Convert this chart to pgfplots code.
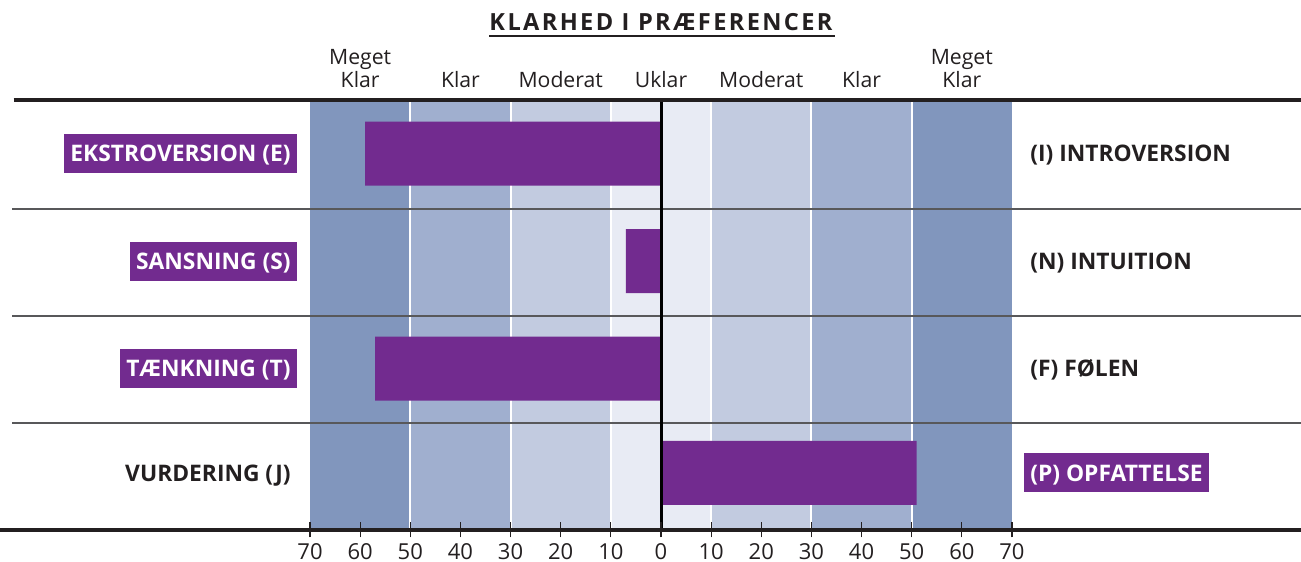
\documentclass[border=0pt]{standalone}
\usepackage{fontspec}
\setmainfont{Open Sans}
\usepackage{pgfplots}
\pgfplotsset{compat=1.18}
\definecolor{bandA}{HTML}{8196BD}
\definecolor{bandB}{HTML}{A0AFCF}
\definecolor{bandC}{HTML}{C2CBE0}
\definecolor{bandD}{HTML}{E8EBF4}
\definecolor{purp}{HTML}{722B8F}
\definecolor{textdark}{HTML}{231F20}
\definecolor{sepgray}{HTML}{58585A}
\tikzset{
  lab/.style={font=\fontsize{11.4}{13}\selectfont\bfseries, text height=8.2pt, text depth=0pt, inner ysep=5.65pt, inner xsep=3pt},
  hl/.style={lab, fill=purp, text=white},
  nl/.style={lab, text=textdark},
  hd/.style={font=\fontsize{10.6}{12}\selectfont, text=textdark, anchor=base, inner sep=0pt},
}
\begin{document}
\begin{tikzpicture}
\begin{axis}[
  scale only axis, width=351pt, height=215pt,
  xmin=-70, xmax=70, ymin=0, ymax=4,
  clip=false, axis on top,
  axis line style={draw=none},
  xtick={-70,-60,...,70},
  xticklabels={70,60,50,40,30,20,10,0,10,20,30,40,50,60,70},
  ytick=\empty,
  xtick pos=bottom,
  tick align=center,
  major tick length=7.5pt,
  tick style={textdark, line width=0.6pt},
  ticklabel style={font=\fontsize{11}{12}\selectfont, text=textdark},
  /pgf/number format/assume math mode=true,
  xticklabel style={anchor=base, yshift=-10.8pt},
]
% bands
\fill[bandA] (axis cs:-70,0) rectangle (axis cs:-50,4);
\fill[bandB] (axis cs:-50,0) rectangle (axis cs:-30,4);
\fill[bandC] (axis cs:-30,0) rectangle (axis cs:-10,4);
\fill[bandD] (axis cs:-10,0) rectangle (axis cs:10,4);
\fill[bandC] (axis cs:10,0) rectangle (axis cs:30,4);
\fill[bandB] (axis cs:30,0) rectangle (axis cs:50,4);
\fill[bandA] (axis cs:50,0) rectangle (axis cs:70,4);
\draw[white, line width=1pt] (axis cs:-50,0) -- (axis cs:-50,4);
\draw[white, line width=1pt] (axis cs:-30,0) -- (axis cs:-30,4);
\draw[white, line width=1pt] (axis cs:-10,0) -- (axis cs:-10,4);
\draw[white, line width=1pt] (axis cs:10,0) -- (axis cs:10,4);
\draw[white, line width=1pt] (axis cs:30,0) -- (axis cs:30,4);
\draw[white, line width=1pt] (axis cs:50,0) -- (axis cs:50,4);
% row separators
\draw[sepgray, line width=1pt] (axis cs:-129.4,0.995) -- (axis cs:127.7,0.995);
\draw[sepgray, line width=1pt] (axis cs:-129.4,1.99) -- (axis cs:127.7,1.99);
\draw[sepgray, line width=1pt] (axis cs:-129.4,2.985) -- (axis cs:127.7,2.985);
% bars
\addplot[xbar, bar width=32pt, bar shift=0pt, fill=purp, draw=none]
  coordinates {(-59,3.5) (-7,2.5) (-57,1.5) (51,0.53)};
% zero line
\draw[black, line width=1.5pt] (axis cs:0,0) -- (axis cs:0,4);
% top and bottom lines
\draw[textdark, line width=2pt] (axis cs:-129.1,4) -- (axis cs:127.7,4);
\draw[textdark, line width=2pt] (axis cs:-131.9,0) -- (axis cs:127.7,0);
% left labels
\node[hl, anchor=east] at (axis cs:-72.6,3.5) {EKSTROVERSION (E)};
\node[hl, anchor=east] at (axis cs:-72.6,2.5) {SANSNING (S)};
\node[hl, anchor=east] at (axis cs:-72.6,1.5) {TÆNKNING (T)};
\node[nl, anchor=east] at (axis cs:-72.6,0.53) {VURDERING (J)};
% right labels
\node[nl, anchor=west] at (axis cs:72.4,3.5) {(I) INTROVERSION};
\node[nl, anchor=west] at (axis cs:72.4,2.5) {(N) INTUITION};
\node[nl, anchor=west] at (axis cs:72.4,1.5) {(F) FØLEN};
\node[hl, anchor=west] at (axis cs:72.4,0.53) {(P) OPFATTELSE};
% header
\node[hd] at (axis cs:-60,4.326) {Meget};
\node[hd] at (axis cs:-60,4.112) {Klar};
\node[hd] at (axis cs:-40,4.112) {Klar};
\node[hd] at (axis cs:-20,4.112) {Moderat};
\node[hd] at (axis cs:0,4.112) {Uklar};
\node[hd] at (axis cs:20,4.112) {Moderat};
\node[hd] at (axis cs:40,4.112) {Klar};
\node[hd] at (axis cs:60,4.326) {Meget};
\node[hd] at (axis cs:60,4.112) {Klar};
% title
\node[anchor=base, inner sep=0pt, text=textdark, font=\fontsize{11.8}{13}\selectfont\bfseries\addfontfeature{LetterSpace=10}] (title) at (axis cs:0,4.648) {KLARHED I PRÆFERENCER};
\draw[textdark, line width=0.7pt] (axis cs:-34.3,4.595) -- (axis cs:34.7,4.595);
% bounding box corners
\coordinate (bl) at (axis cs:-131.83,-0.2977);
\coordinate (tr) at (axis cs:127.64,4.930);
\end{axis}
\pgfresetboundingbox
\path (bl) rectangle (tr);
\end{tikzpicture}
\end{document}
